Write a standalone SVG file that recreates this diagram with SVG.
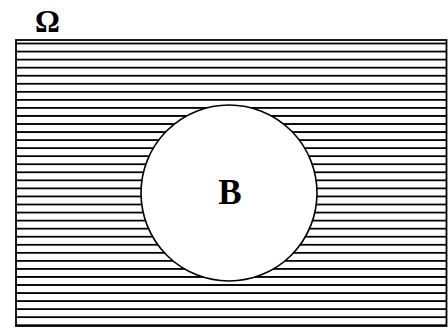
<svg xmlns="http://www.w3.org/2000/svg" width="448" height="328" viewBox="0 0 448 328">
  <defs>
    <pattern id="hatch" patternUnits="userSpaceOnUse" x="0" y="43.5" width="448" height="8.05">
      <line x1="0" y1="0" x2="448" y2="0" stroke="#000" stroke-width="1.6"/>
      <line x1="0" y1="8.05" x2="448" y2="8.05" stroke="#000" stroke-width="1.6"/>
    </pattern>
  </defs>
  <style>
    .lbl { font-family: "Liberation Serif", "Times New Roman", serif; font-weight: bold; fill: #000; }
  </style>
  <rect width="448" height="328" fill="#fff"/>
  <g id="omega">
    <rect x="16" y="40" width="430.5" height="286" fill="url(#hatch)" stroke="#000" stroke-width="1.8"/>
    <text class="lbl" x="47.5" y="31.5" font-size="31" text-anchor="middle">Ω</text>
  </g>
  <g id="B">
    <circle cx="229" cy="193" r="88" fill="#fff" stroke="#000" stroke-width="1.6"/>
    <text class="lbl" x="230" y="203.5" font-size="35" text-anchor="middle">B</text>
  </g>
  <g id="connectors"/>
</svg>
